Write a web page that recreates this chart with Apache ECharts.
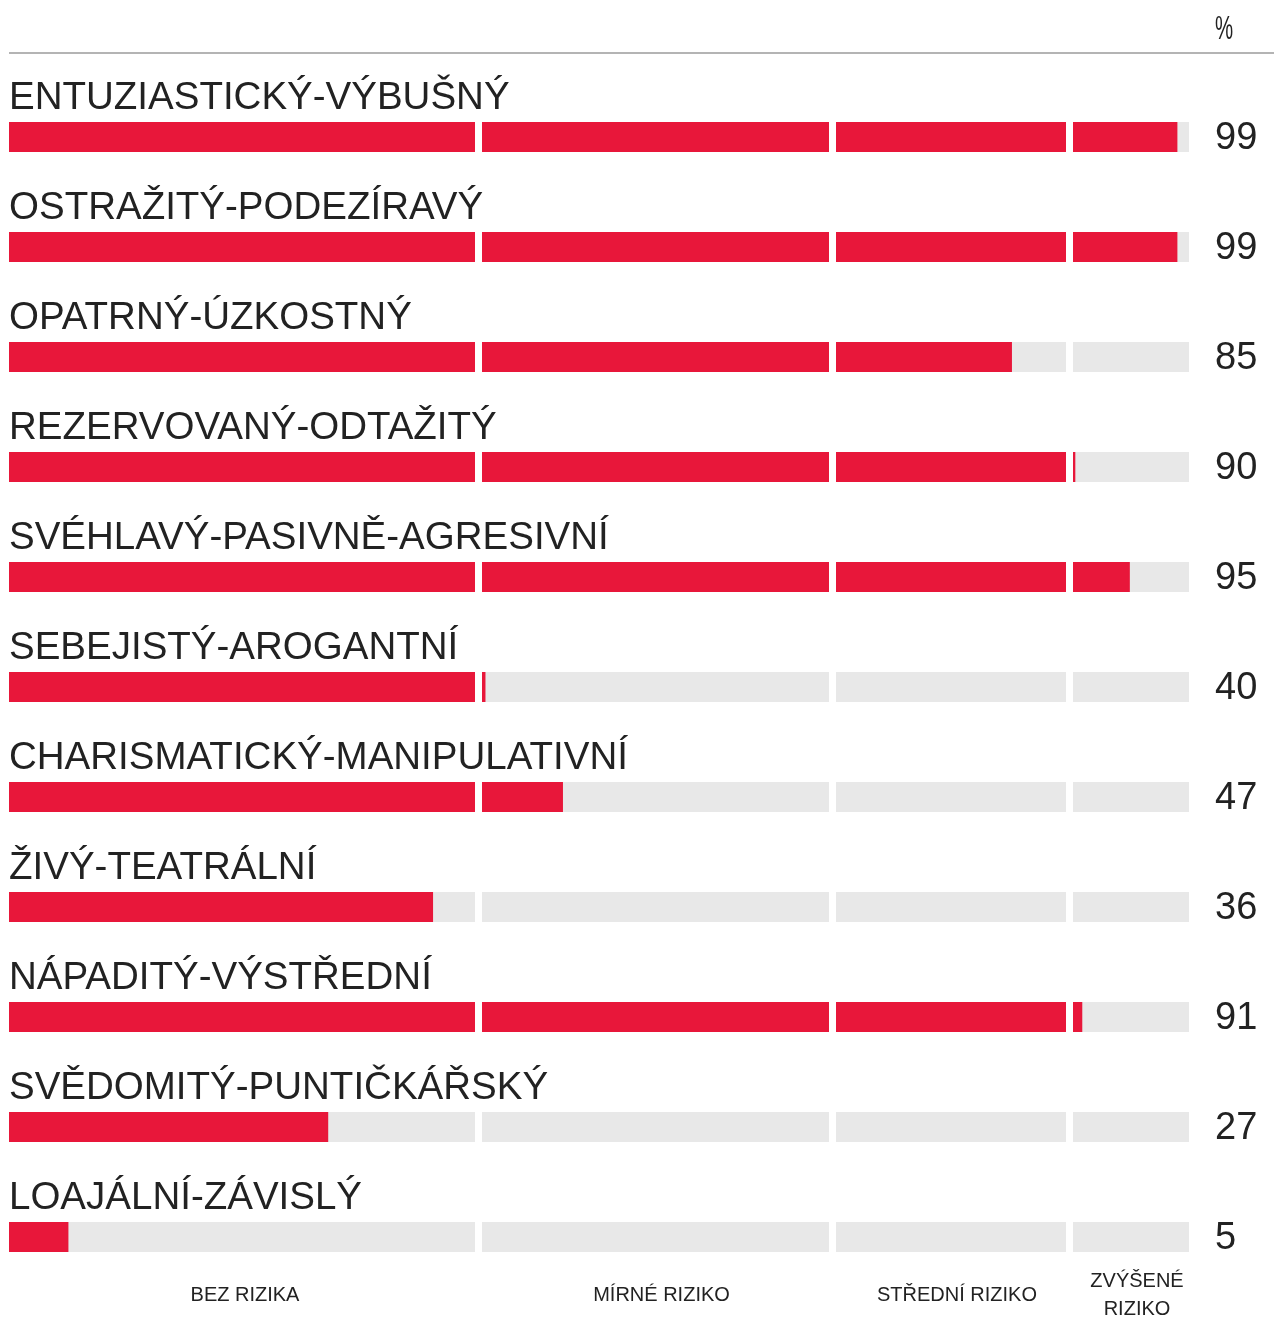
<!DOCTYPE html>
<html>
<head>
<meta charset="utf-8">
<script src="https://cdn.jsdelivr.net/npm/echarts@6/dist/echarts.min.js"></script>
<style>
  html, body { margin: 0; padding: 0; background: #fff; }
  #container-risk { width: 1274px; height: 1317px; }
</style>
</head>
<body>
<div id="container-risk"></div>
<script>
var categories = ['ENTUZIASTICKÝ-VÝBUŠNÝ', 'OSTRAŽITÝ-PODEZÍRAVÝ', 'OPATRNÝ-ÚZKOSTNÝ', 'REZERVOVANÝ-ODTAŽITÝ',
  'SVÉHLAVÝ-PASIVNĚ-AGRESIVNÍ', 'SEBEJISTÝ-AROGANTNÍ', 'CHARISMATICKÝ-MANIPULATIVNÍ', 'ŽIVÝ-TEATRÁLNÍ',
  'NÁPADITÝ-VÝSTŘEDNÍ', 'SVĚDOMITÝ-PUNTIČKÁŘSKÝ', 'LOAJÁLNÍ-ZÁVISLÝ'];
// bar lengths, labels are the rounded values
var scores = [99, 99, 85.3, 90.2, 94.9, 40.3, 47, 36.4, 90.8, 27.4, 5.1];
var zoneBreaks = [0, 40, 70, 90, 100];
var zoneNames = ['BEZ RIZIKA', 'MÍRNÉ RIZIKO', 'STŘEDNÍ RIZIKO', 'ZVÝŠENÉ\nRIZIKO'];

var FONT = '"Liberation Sans", Arial, Helvetica, sans-serif';
var RED = '#e8173a';
var GREY = '#e8e8e8';

drawRisk('risk');

function drawRisk(element) {
  var dom = document.getElementById('container-' + element);
  var myChart = echarts.init(dom);

  var lefts = [9, 482, 836, 1073];
  var widths = [466, 347, 230, 116];
  var grids = [], xAxes = [], yAxes = [], series = [];

  for (var z = 0; z < 4; z++) {
    var lo = zoneBreaks[z], hi = zoneBreaks[z + 1];
    grids.push({left: lefts[z], width: widths[z], top: 82, height: 1210, outerBoundsMode: 'none', containLabel: false});
    xAxes.push({
      gridIndex: z, type: 'value', min: 0, max: hi - lo,
      axisLine: {show: false}, axisTick: {show: false}, axisLabel: {show: false}, splitLine: {show: false},
      name: zoneNames[z], nameLocation: 'middle', nameGap: 3,
      nameTextStyle: {
        fontFamily: FONT, fontSize: 20, color: '#222', lineHeight: 28,
        verticalAlign: 'middle', padding: [0, 0, 0, z === 0 ? 6 : 12]
      }
    });
    yAxes.push({
      gridIndex: z, type: 'category', inverse: true, data: categories,
      axisLine: {show: false}, axisTick: {show: false}, axisLabel: {show: false}, splitLine: {show: false}
    });

    var bg = {
      type: 'bar', xAxisIndex: z, yAxisIndex: z, barWidth: 30, barGap: '-100%', silent: true,
      itemStyle: {color: GREY},
      data: categories.map(function () { return hi - lo; })
    };
    if (z === 0) {
      bg.label = {
        show: true, position: [0, -5], align: 'left', verticalAlign: 'bottom',
        fontFamily: FONT, fontSize: 38.5, color: '#222', lineHeight: 38,
        formatter: function (p) { return categories[p.dataIndex]; }
      };
    }
    if (z === 3) {
      bg.label = {
        show: true, position: 'right', distance: 26, offset: [0, 2],
        fontFamily: FONT, fontSize: 38, color: '#222',
        formatter: function (p) { return Math.round(scores[p.dataIndex]); }
      };
    }
    series.push(bg);

    series.push({
      type: 'bar', xAxisIndex: z, yAxisIndex: z, barWidth: 30, barGap: '-100%', silent: true,
      itemStyle: {color: RED},
      data: scores.map(function (v) { return Math.max(0, Math.min(v, hi) - lo); })
    });
  }

  var option = {
    backgroundColor: '#fff',
    animation: false,
    grid: grids,
    xAxis: xAxes,
    yAxis: yAxes,
    graphic: [
      {type: 'line', shape: {x1: 9, y1: 53, x2: 1274, y2: 53}, style: {stroke: '#b4b4b4', lineWidth: 2}},
      {type: 'text', x: 1215, y: 13, scaleX: 0.6, style: {text: '%', font: '34px ' + FONT, fill: '#222'}}
    ],
    series: series
  };
  myChart.setOption(option, true);
}
</script>
</body>
</html>
